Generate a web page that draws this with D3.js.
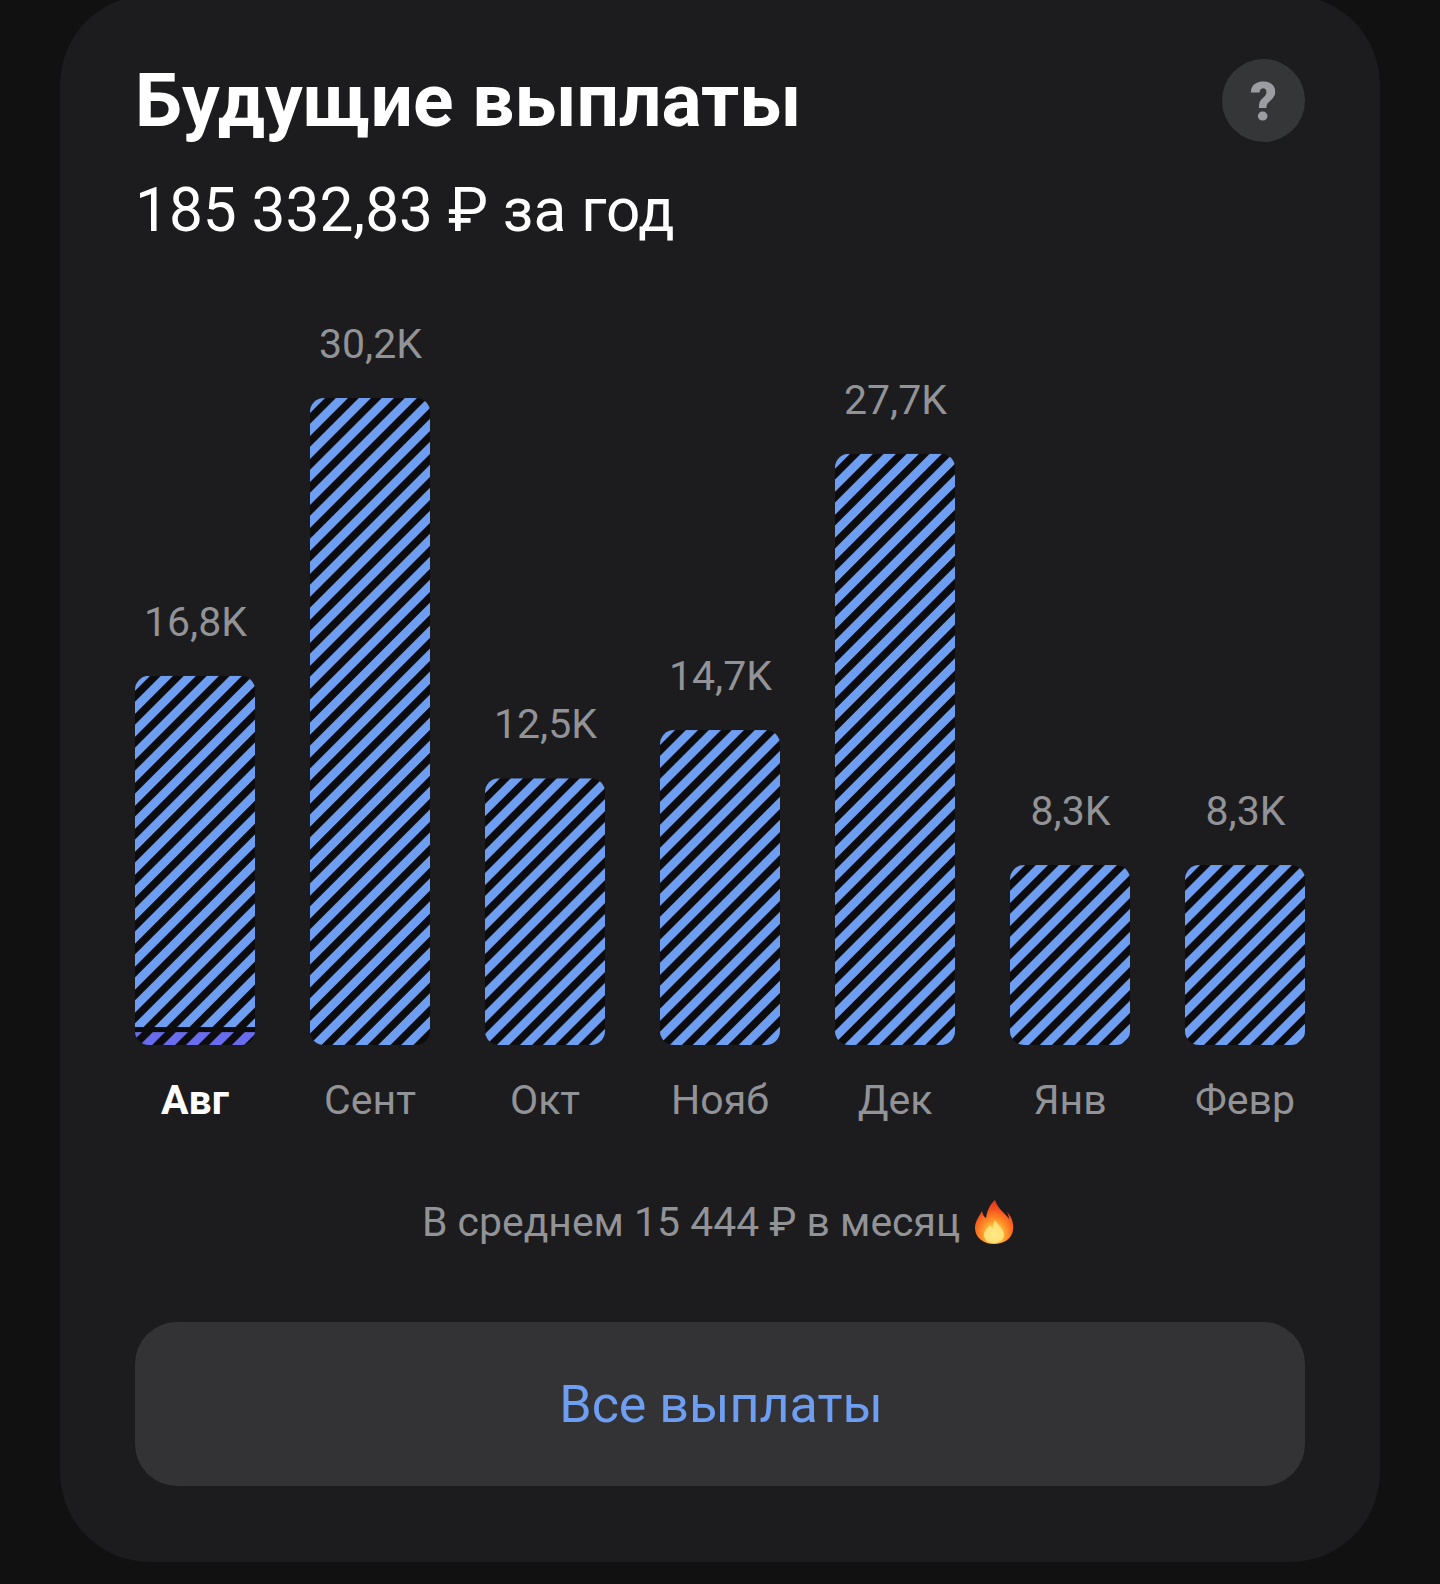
<!DOCTYPE html>
<html><head><meta charset="utf-8">
<style>html,body{margin:0;padding:0;background:#111112}svg{display:block}text{font-family:Roboto,"Noto Sans",sans-serif}</style>
<script src="https://cdn.jsdelivr.net/npm/d3@7"></script>
</head><body><svg id="c" width="1440" height="1584"></svg>
<script>
const months=["Авг","Сент","Окт","Нояб","Дек","Янв","Февр"];
const upcoming=[16.4,30.2,12.45,14.7,27.6,8.4,8.4];
const received=[0.6,0,0,0,0,0,0];
const valueLabels=["16,8K","30,2K","12,5K","14,7K","27,7K","8,3K","8,3K"];
const title="Будущие выплаты";
const subtitle="185 332,83 ₽ за год";
const average="В среднем 15 444 ₽ в месяц";
const buttonLabel="Все выплаты";

const svg=d3.select("#c");
const defs=svg.append("defs");
function stripes(id,color,ox,oy){
  const p=defs.append("pattern").attr("id",id).attr("patternUnits","userSpaceOnUse")
    .attr("width",16.25).attr("height",16.25).attr("patternTransform",`translate(${ox},${oy}) rotate(-45)`);
  p.append("rect").attr("width",16.25).attr("height",16.25).attr("fill",color);
  p.append("rect").attr("width",16.25).attr("height",7.6).attr("fill","#0c0c0e");
}
const fg=defs.append("radialGradient").attr("id","flame").attr("cx",.5).attr("cy",.78).attr("r",.72);
[[0,"#fff3b0"],[.22,"#ffc94a"],[.5,"#ff8a25"],[.8,"#f4511e"],[1,"#e23a1c"]].forEach(([o,c])=>fg.append("stop").attr("offset",o).attr("stop-color",c));

svg.append("rect").attr("x",60).attr("y",-5).attr("width",1320).attr("height",1567).attr("rx",90).attr("fill","#1c1c1e");

svg.append("text").attr("x",135).attr("y",126).attr("font-size",75).attr("font-weight",700).attr("fill","#fff").text(title);
svg.append("text").attr("x",135).attr("y",231).attr("font-size",60.3).attr("fill","#fff").text(subtitle);
svg.append("circle").attr("cx",1263.5).attr("cy",100.5).attr("r",41.5).attr("fill","#353638");
svg.append("text").attr("x",1263.5).attr("y",120).attr("text-anchor","middle").attr("font-size",53).attr("font-weight",900).attr("fill","#9b9da3").text("?");

const x=d3.scaleBand().domain(months).range([135,1305]).paddingInner(55/175).paddingOuter(0);
const y=d3.scaleLinear().domain([0,30.2]).range([1045,398]);
const rows=months.map((m,i)=>({m,up:upcoming[i],rc:received[i],label:valueLabels[i]}));
const gap=5;
const topOf=d=>y(d.up+d.rc)-(d.rc?gap:0);
rows.forEach((d,i)=>{
  const top=topOf(d);
  stripes("st"+i,"#6e9ef2",x(d.m)+15.05,top);
  defs.append("clipPath").attr("id","b"+i).append("rect").attr("x",x(d.m)).attr("y",top)
    .attr("width",x.bandwidth()).attr("height",1045-top).attr("rx",14);
  if(d.rc>0) stripes("rc"+i,"#6a6cf0",x(d.m)+7.05,y(d.rc));
});
const g=svg.append("g").selectAll("g").data(rows).join("g").attr("clip-path",(d,i)=>`url(#b${i})`);
g.append("rect").attr("x",d=>x(d.m)).attr("width",x.bandwidth())
  .attr("y",topOf).attr("height",d=>y(0)-y(d.up)).attr("fill",(d,i)=>`url(#st${i})`);
const low=g.filter(d=>d.rc>0);
low.append("rect").attr("x",d=>x(d.m)).attr("width",x.bandwidth())
  .attr("y",d=>y(d.rc)-gap).attr("height",gap).attr("fill","#0c0c0e");
low.append("rect").attr("x",d=>x(d.m)).attr("width",x.bandwidth())
  .attr("y",d=>y(d.rc)).attr("height",d=>y(0)-y(d.rc)).attr("fill",d=>`url(#rc${rows.indexOf(d)})`);

svg.append("g").selectAll("text").data(rows).join("text")
  .attr("x",d=>x(d.m)+x.bandwidth()/2+0.5)
  .attr("y",d=>topOf(d)-40)
  .attr("text-anchor","middle").attr("font-size",41).attr("fill","#929397").text(d=>d.label);

const ax=svg.append("g").attr("transform","translate(0,1045)").call(d3.axisBottom(x).tickSize(0).tickPadding(0));
ax.select(".domain").remove();
ax.selectAll("text").attr("y",0).attr("dy",0).attr("transform","translate(0,69)").attr("font-size",41)
  .attr("font-family",'Roboto,"Noto Sans",sans-serif')
  .attr("fill",(d,i)=>i===0?"#fff":"#929397").attr("font-weight",(d,i)=>i===0?700:400);

svg.append("text").attr("x",422).attr("y",1236).attr("font-size",40.9).attr("fill","#929397").text(average);
const fl=svg.append("g").attr("transform","translate(994,1222)");
fl.append("path").attr("fill","url(#flame)").attr("d","M1-22C4-13 11-9 15-3C15-6 14-8 13-10C18-5 20 2 19 8C18 17 9 22 0 22C-10 22-19 16-19 6C-19-1-15-5-12-11C-11-7-10-5-8-4C-7-11-4-18 1-22Z");
fl.append("path").attr("fill","#ffe680").attr("opacity",.85).attr("d","M1-2C3 3 10 6 10 13C10 18 5 21 0 21C-6 21-10 18-10 13C-10 8-6 6-4 3C-3 5-2 6-1 6C-1 3 0 0 1-2Z");

svg.append("rect").attr("x",135).attr("y",1322).attr("width",1170).attr("height",164).attr("rx",42).attr("fill","#333335");
svg.append("text").attr("x",721).attr("y",1422).attr("text-anchor","middle").attr("font-size",52).attr("fill","#6e9ef2").text(buttonLabel);
</script></body></html>
